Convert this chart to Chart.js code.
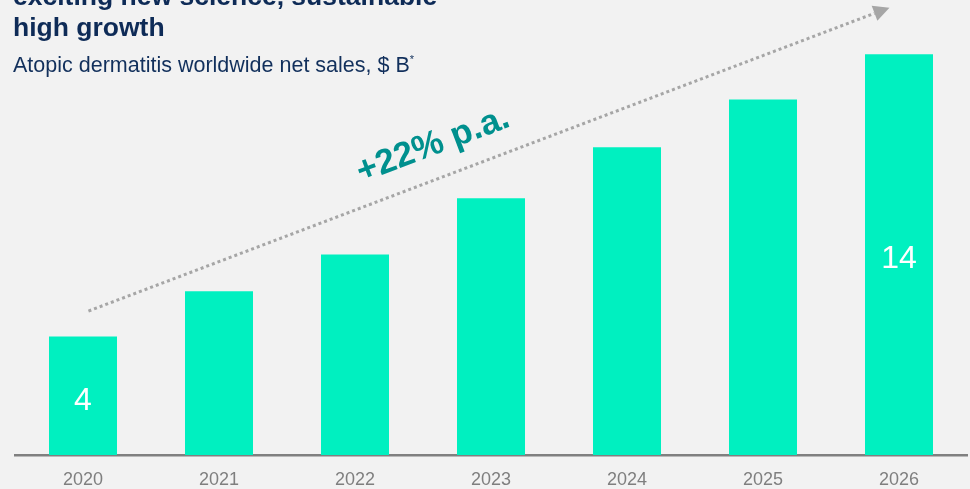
<!DOCTYPE html>
<html>
<head>
<meta charset="utf-8">
<script src="https://cdn.jsdelivr.net/npm/chart.js"></script>
<style>
  html, body { margin: 0; padding: 0; background: #f2f2f2; overflow: hidden; }
  #wrap { position: relative; width: 970px; height: 489px; }
  #chart { position: absolute; left: 0; top: 0; }
  .title {
    position: absolute; left: 13px; top: -19px; margin: 0;
    font: bold 26.5px "Liberation Sans", Arial, sans-serif; line-height: 31px;
    color: #0e2b57;
  }
  .subtitle {
    position: absolute; left: 13px; top: 53px; margin: 0;
    font: 21.5px "Liberation Sans", Arial, sans-serif; color: #12305c;
  }
  .subtitle sup { font-size: 11px; vertical-align: 9px; }
</style>
</head>
<body>
<div id="wrap">
  <canvas id="chart" width="970" height="489"></canvas>
  <div class="title">exciting new science, sustainable<br>high growth</div>
  <div class="subtitle">Atopic dermatitis worldwide net sales, $ B<sup>*</sup></div>
</div>
<script>
// Worldwide net sales by year, $ B
const years = ['2020', '2021', '2022', '2023', '2024', '2025', '2026'];
const sales = [4, 5.6, 6.9, 8.9, 10.7, 12.4, 14];
// only the first and last bars carry a value label
const labelledBars = [0, 6];

// value axis range; bars grow up from the axis floor
const axisMin = -0.2;
const axisMax = 15;

// growth arrow, in data space: [category index, value]
const trendFrom = [0.04, 4.9];
const trendTo = [5.93, 15.65];
const trendText = '+22% p.a.';

const barColor = '#00f0c0';

// draws value labels inside bars plus the dotted growth arrow
const overlay = {
  id: 'overlay',
  afterDatasetsDraw(chart) {
    const { ctx, scales: { x, y } } = chart;
    const bars = chart.getDatasetMeta(0).data;

    ctx.save();
    ctx.fillStyle = '#ffffff';
    ctx.font = '32px "Liberation Sans", Arial, sans-serif';
    ctx.textAlign = 'center';
    ctx.textBaseline = 'middle';
    labelledBars.forEach(i => {
      const b = bars[i];
      ctx.fillText(String(sales[i]), b.x, (b.y + b.base) / 2 + 5);
    });

    const x0 = x.getPixelForValue(trendFrom[0]), y0 = y.getPixelForValue(trendFrom[1]);
    const x1 = x.getPixelForValue(trendTo[0]), y1 = y.getPixelForValue(trendTo[1]);
    const ang = Math.atan2(y1 - y0, x1 - x0);
    const head = 16;

    ctx.strokeStyle = '#a6a6a6';
    ctx.fillStyle = '#a6a6a6';
    ctx.lineWidth = 3;
    ctx.setLineDash([3, 3]);
    ctx.beginPath();
    ctx.moveTo(x0, y0);
    ctx.lineTo(x1 - head * Math.cos(ang), y1 - head * Math.sin(ang));
    ctx.stroke();
    ctx.setLineDash([]);
    ctx.beginPath();
    ctx.moveTo(x1, y1);
    ctx.lineTo(x1 - head * Math.cos(ang) + 8 * Math.sin(ang), y1 - head * Math.sin(ang) - 8 * Math.cos(ang));
    ctx.lineTo(x1 - head * Math.cos(ang) - 8 * Math.sin(ang), y1 - head * Math.sin(ang) + 8 * Math.cos(ang));
    ctx.closePath();
    ctx.fill();

    // growth rate text sits above the arrow, parallel to it
    const t = 0.445, off = 33;
    const tx = x0 + (x1 - x0) * t + off * Math.sin(ang);
    const ty = y0 + (y1 - y0) * t - off * Math.cos(ang);
    ctx.translate(tx, ty);
    ctx.rotate(ang);
    ctx.fillStyle = '#00908e';
    ctx.font = 'bold 35px "Liberation Sans", Arial, sans-serif';
    ctx.fillText(trendText, 0, 0);
    ctx.restore();
  }
};

new Chart(document.getElementById('chart'), {
  type: 'bar',
  data: {
    labels: years,
    datasets: [{
      data: sales,
      base: axisMin,
      backgroundColor: barColor,
      barPercentage: 0.5,
      categoryPercentage: 1
    }]
  },
  options: {
    responsive: false,
    animation: false,
    layout: { padding: { left: 15, right: 3, top: 26, bottom: 0 } },
    plugins: { legend: { display: false }, tooltip: { enabled: false } },
    scales: {
      x: {
        grid: { display: false, drawTicks: false },
        border: { display: true, color: '#808080', width: 2.5 },
        ticks: {
          color: '#7f7f7f',
          padding: 14,
          font: { family: '"Liberation Sans", Arial, sans-serif', size: 18 }
        },
        afterFit(scale) { scale.height = 34; }
      },
      y: {
        display: false,
        min: axisMin,
        max: axisMax
      }
    }
  },
  plugins: [overlay]
});
</script>
</body>
</html>
